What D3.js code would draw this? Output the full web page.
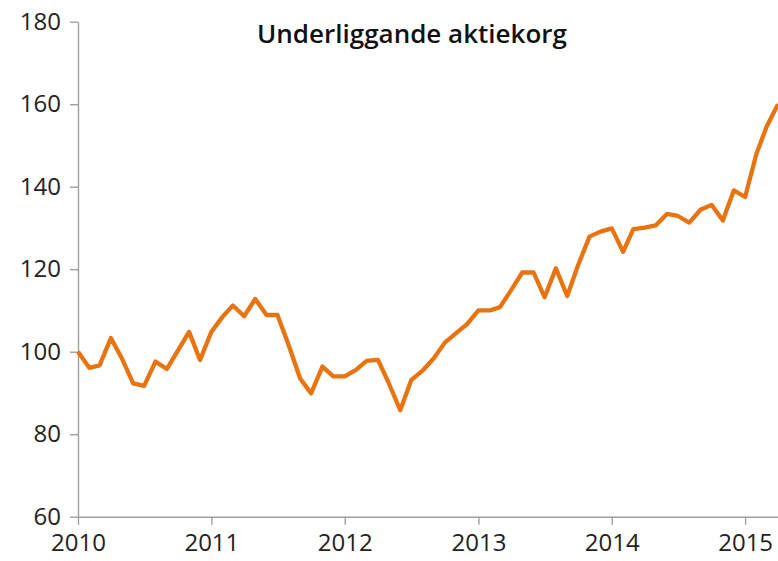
<!DOCTYPE html>
<html>
<head>
<meta charset="utf-8">
<script src="https://cdn.jsdelivr.net/npm/d3@7"></script>
<style>
  body { margin: 0; background: #fff; }
  svg text { font-family: "Open Sans", sans-serif; fill: #222; }
  .axis path, .axis line { stroke: #a0a0a0; stroke-width: 1.4; }
  .axis text { font-size: 24px; }
  .title { font-size: 26px; font-weight: 600; fill: #111; }
</style>
</head>
<body>
<svg width="778" height="561"></svg>
<script>
// Monthly index values, Jan 2010 - Apr 2015
var startMonth = '2010-01';
var values = [
  100, 96.1, 96.7, 103.3, 98.4, 92.3, 91.7, 97.6, 95.8, 100.2, 104.8, 98,
  104.8, 108.5, 111.2, 108.6, 112.8, 108.9, 108.9, 101.5, 93.5, 89.9, 96.4, 94,
  94, 95.6, 97.8, 98, 92.3, 85.8, 93.1, 95.4, 98.4, 102.2, 104.5, 106.7,
  110, 110, 110.8, 115, 119.2, 119.2, 113.2, 120.2, 113.5, 121, 127.9, 129.1,
  129.9, 124.2, 129.7, 130.1, 130.6, 133.4, 132.9, 131.3, 134.4, 135.6, 131.8, 139.1,
  137.5, 148, 154.6, 160
];
var yearTicks = [2010, 2011, 2012, 2013, 2014, 2015];
var yTicks = [60, 80, 100, 120, 140, 160, 180];
var title = 'Underliggande aktiekorg';

var svg = d3.select('svg');
var svgWidth = +svg.attr('width');
var svgHeight = +svg.attr('height');

var padding = {t: 21.7, r: 0, b: 44.3, l: 78};
var chartWidth = svgWidth - padding.l - padding.r;
var chartHeight = svgHeight - padding.t - padding.b;

var chartG = svg.append('g')
    .attr('transform', 'translate(' + [padding.l, padding.t] + ')');

var parseMonth = d3.timeParse('%Y-%m');
var start = parseMonth(startMonth);
var data = values.map(function(v, i) {
    return {date: d3.timeMonth.offset(start, i), value: v};
});

var xScale = d3.scaleTime()
    .domain([start, data[data.length - 1].date])
    .range([0, chartWidth]);
var yScale = d3.scaleLinear().domain([60, 180]).range([chartHeight, 0]);

chartG.append('g')
    .attr('class', 'x axis')
    .attr('transform', 'translate(' + [0, chartHeight] + ')')
    .call(d3.axisBottom(xScale)
        .tickValues(yearTicks.map(function(y) { return new Date(y, 0, 1); }))
        .tickFormat(d3.timeFormat('%Y'))
        .tickSizeInner(8).tickSizeOuter(0).tickPadding(8));

chartG.append('g')
    .attr('class', 'y axis')
    .call(d3.axisLeft(yScale)
        .tickValues(yTicks)
        .tickSizeInner(8).tickSizeOuter(0).tickPadding(9));

svg.selectAll('.x.axis .tick text').attr('dy', '0.78em');

var line = d3.line()
    .x(function(d) { return xScale(d.date); })
    .y(function(d) { return yScale(d.value); });

chartG.append('path')
    .datum(data)
    .attr('fill', 'none')
    .attr('stroke', '#e8730f')
    .attr('stroke-width', 4.3)
    .attr('stroke-linejoin', 'round')
    .attr('d', line);

svg.append('text')
    .attr('class', 'title')
    .attr('x', 412)
    .attr('y', 43)
    .attr('text-anchor', 'middle')
    .text(title);
</script>
</body>
</html>
